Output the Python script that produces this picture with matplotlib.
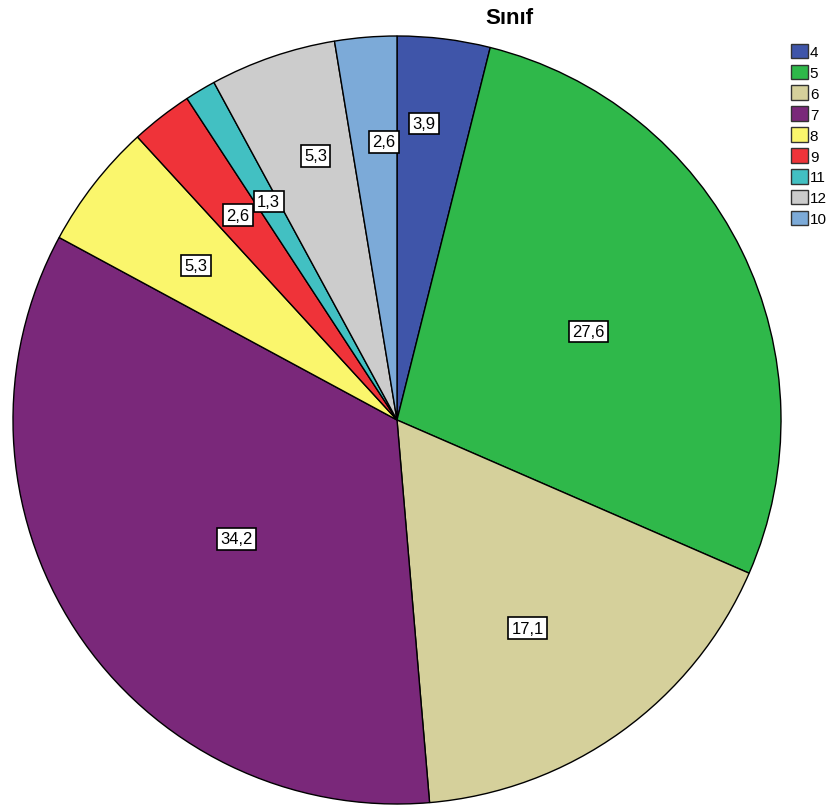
import numpy as np
import matplotlib.pyplot as plt
from matplotlib.patches import Patch

plt.rcParams['font.family'] = ['Liberation Sans', 'DejaVu Sans']

labels = ['4', '5', '6', '7', '8', '9', '11', '12', '10']
values = [3.9, 27.6, 17.1, 34.2, 5.3, 2.6, 1.3, 5.3, 2.6]
colors = ['#3f55a9', '#2fb84a', '#d5d09b', '#7a287a', '#faf66c',
          '#ef3339', '#42c0c2', '#cccccc', '#7caad8']
# value box placement: fraction of radius, angle nudge in degrees
lab_r = [0.775, 0.55, 0.64, 0.52, 0.66, 0.675, 0.66, 0.72, 0.725]
lab_da = [1.8, -1.4, -3.6, 3.3, 0.4, 0, -0.4, -1.8, -2]

fig = plt.figure(figsize=(8.32, 8.12), dpi=100)
ax = fig.add_axes([13/832, 7/812, 768/832, 768/812])

wedges, _ = ax.pie(values, colors=colors, startangle=90, counterclock=False,
                   wedgeprops=dict(edgecolor='black', linewidth=1))
ax.set_xlim(-1, 1)
ax.set_ylim(-1, 1)
ax.set_aspect('equal')

for w, v, r, da in zip(wedges, values, lab_r, lab_da):
    ang = np.deg2rad((w.theta1 + w.theta2) / 2 + da)
    ax.text(r * np.cos(ang), r * np.sin(ang), ('%.1f' % v).replace('.', ','),
            ha='center', va='center', fontsize=12,
            bbox=dict(facecolor='white', edgecolor='black', linewidth=1.2,
                      boxstyle='square,pad=0.2'))

fig.text(509/832, 1 - 18/812, 'Sınıf', ha='center', va='center',
         fontsize=16, fontweight='bold')

handles = [Patch(facecolor=c, edgecolor='#333333', linewidth=1) for c in colors]
leg = fig.legend(handles, labels, loc='upper left',
                 bbox_to_anchor=(780/832, 1 - 34/812), frameon=False,
                 fontsize=11, handlelength=1.1, handleheight=1.1,
                 handletextpad=0.15, labelspacing=0.35, borderpad=0.2)

fig.savefig('out.png', dpi=100)
